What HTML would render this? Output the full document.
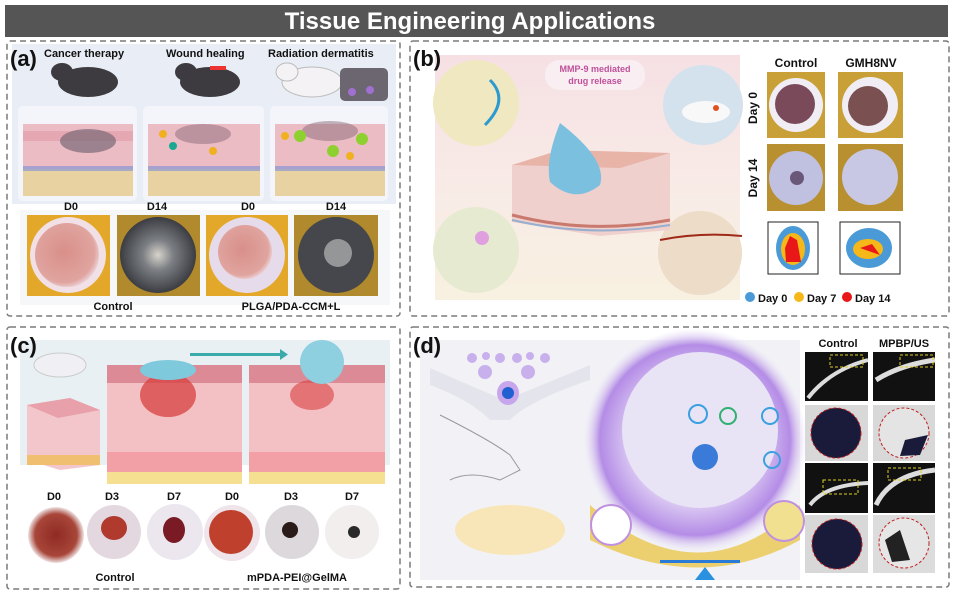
<!DOCTYPE html>
<html><head><meta charset="utf-8"><style>
html,body{margin:0;padding:0;background:#fff;width:955px;height:594px;overflow:hidden}
text{font-family:"Liberation Sans",sans-serif;font-weight:bold}
</style></head><body>
<svg width="955" height="594" viewBox="0 0 955 594" xmlns="http://www.w3.org/2000/svg">
<defs>
<radialGradient id="pg" cx="0.5" cy="0.5" r="0.5"><stop offset="0.6" stop-color="#d9c6f2"/><stop offset="0.85" stop-color="#b48ce6"/><stop offset="1" stop-color="#e8e0f5" stop-opacity="0"/></radialGradient>
<radialGradient id="wd0" cx="0.45" cy="0.45" r="0.6"><stop offset="0" stop-color="#d98f8a"/><stop offset="0.8" stop-color="#e0a49f"/><stop offset="1" stop-color="#f0e0e8"/></radialGradient>
<radialGradient id="wd14" cx="0.5" cy="0.5" r="0.5"><stop offset="0" stop-color="#d8d4cc"/><stop offset="0.4" stop-color="#7c7f84"/><stop offset="1" stop-color="#3b3d42"/></radialGradient>
<radialGradient id="cw" cx="0.5" cy="0.5" r="0.5"><stop offset="0" stop-color="#8e2a22"/><stop offset="0.75" stop-color="#a8463a"/><stop offset="1" stop-color="#efe4e4"/></radialGradient>
<linearGradient id="bb" x1="0" y1="0" x2="0" y2="1"><stop offset="0" stop-color="#f6e0e4"/><stop offset="0.6" stop-color="#f8ece6"/><stop offset="1" stop-color="#f8f0e0"/></linearGradient>
</defs>
<rect x="5" y="5" width="943" height="32" fill="#555555"/>
<text x="470" y="29" font-size="24" fill="#fff" text-anchor="middle">Tissue Engineering Applications</text>

<g fill="none" stroke="#7a7a7a" stroke-width="1.5" stroke-dasharray="6,4">
<rect x="7" y="41" width="393" height="275" rx="3"/>
<rect x="410" y="41" width="539" height="275" rx="3"/>
<rect x="7" y="327" width="393" height="262" rx="3"/>
<rect x="410" y="327" width="539" height="260" rx="3"/>
</g>

<!-- ===== panel a ===== -->
<rect x="12" y="44" width="384" height="160" fill="#e9eef6"/>
<rect x="20" y="210" width="370" height="95" fill="#f6f7f9"/>
<text x="10" y="66" font-size="22" fill="#111">(a)</text>
<text x="44" y="57" font-size="11" fill="#111">Cancer therapy</text>
<text x="166" y="57" font-size="11" fill="#111">Wound healing</text>
<text x="268" y="57" font-size="11" fill="#111">Radiation dermatitis</text>
<g>
<ellipse cx="88" cy="82" rx="30" ry="15" fill="#3d3b3f"/><ellipse cx="62" cy="72" rx="11" ry="9" fill="#3d3b3f"/>
<ellipse cx="210" cy="82" rx="30" ry="15" fill="#3d3b3f"/><ellipse cx="186" cy="72" rx="11" ry="9" fill="#3d3b3f"/><rect x="210" y="66" width="16" height="4" fill="#e33"/>
<ellipse cx="312" cy="82" rx="30" ry="15" fill="#f4f2f4" stroke="#bbb"/><ellipse cx="287" cy="72" rx="11" ry="9" fill="#f4f2f4" stroke="#bbb"/>
<rect x="340" y="68" width="48" height="33" rx="5" fill="#6b6670"/>
<circle cx="352" cy="92" r="4" fill="#a070d0"/><circle cx="370" cy="90" r="4" fill="#a070d0"/>
</g>
<g>
<g transform="translate(18,106)"><rect width="119" height="95" rx="5" fill="#f3f5fa"/><rect x="5" y="18" width="110" height="45" fill="#ecbcc4"/><rect x="5" y="25" width="110" height="10" fill="#e5a8b2"/><rect x="5" y="63" width="110" height="27" fill="#e9d2a2"/><rect x="5" y="60" width="110" height="5" fill="#7c8fd8" opacity=".6"/><ellipse cx="70" cy="35" rx="28" ry="12" fill="#7a6a78" opacity=".7"/></g>
<g transform="translate(143,106)"><rect width="121" height="95" rx="5" fill="#f3f5fa"/><rect x="5" y="18" width="112" height="45" fill="#ecbcc4"/><rect x="5" y="63" width="112" height="27" fill="#e9d2a2"/><rect x="5" y="60" width="112" height="5" fill="#7c8fd8" opacity=".6"/><ellipse cx="60" cy="28" rx="28" ry="10" fill="#8a6a78" opacity=".5"/><circle cx="20" cy="28" r="4" fill="#f0b020"/><circle cx="30" cy="40" r="4" fill="#1aa890"/><circle cx="70" cy="45" r="4" fill="#f0b020"/></g>
<g transform="translate(270,106)"><rect width="118" height="95" rx="5" fill="#f3f5fa"/><rect x="5" y="18" width="110" height="45" fill="#ecbcc4"/><rect x="5" y="63" width="110" height="27" fill="#e9d2a2"/><rect x="5" y="60" width="110" height="5" fill="#7c8fd8" opacity=".6"/><ellipse cx="60" cy="25" rx="28" ry="10" fill="#8a6a78" opacity=".5"/><circle cx="30" cy="30" r="6" fill="#8ed030"/><circle cx="92" cy="33" r="6" fill="#8ed030"/><circle cx="63" cy="45" r="6" fill="#8ed030"/><circle cx="15" cy="30" r="4" fill="#f0b020"/><circle cx="80" cy="50" r="4" fill="#f0b020"/></g>
</g>
<text x="71" y="210" font-size="11" fill="#111" text-anchor="middle">D0</text>
<text x="157" y="210" font-size="11" fill="#111" text-anchor="middle">D14</text>
<text x="248" y="210" font-size="11" fill="#111" text-anchor="middle">D0</text>
<text x="336" y="210" font-size="11" fill="#111" text-anchor="middle">D14</text>
<g>
<rect x="27" y="215" width="83" height="81" fill="#e3a82a"/><circle cx="68" cy="255" r="38" fill="#f1e0e6"/><circle cx="67" cy="255" r="32" fill="url(#wd0)"/>
<rect x="117" y="215" width="83" height="81" fill="#b08a2c"/><circle cx="158" cy="255" r="38" fill="url(#wd14)"/>
<rect x="206" y="215" width="82" height="81" fill="#e3a82a"/><circle cx="247" cy="255" r="38" fill="#e6dbea"/><circle cx="245" cy="252" r="27" fill="url(#wd0)"/>
<rect x="294" y="215" width="84" height="81" fill="#b08a2c"/><circle cx="336" cy="255" r="38" fill="#45474c"/><circle cx="338" cy="253" r="14" fill="#b8b8b8" opacity=".7"/>
</g>
<text x="113" y="310" font-size="11" fill="#111" text-anchor="middle">Control</text>
<text x="291" y="310" font-size="11" fill="#111" text-anchor="middle">PLGA/PDA-CCM+L</text>

<!-- ===== panel b ===== -->
<rect x="435" y="55" width="305" height="245" fill="url(#bb)"/>
<text x="413" y="66" font-size="22" fill="#111">(b)</text>
<rect x="545" y="60" width="100" height="30" rx="14" fill="#f9eef2"/>
<text x="595" y="72" font-size="9" fill="#c0509a" text-anchor="middle">MMP-9 mediated</text>
<text x="595" y="84" font-size="9" fill="#c0509a" text-anchor="middle">drug release</text>
<circle cx="476" cy="103" r="43" fill="#f0e8c0"/>
<path d="M490,80 Q510,100 485,125" stroke="#2a9ad0" stroke-width="3" fill="none"/>
<circle cx="703" cy="105" r="40" fill="#d4e2ee"/><ellipse cx="706" cy="112" rx="24" ry="11" fill="#f8f8f8"/><circle cx="716" cy="108" r="3" fill="#e05020"/>
<circle cx="476" cy="250" r="43" fill="#e6ead0"/><circle cx="482" cy="238" r="7" fill="#e0a0e0"/>
<circle cx="700" cy="253" r="42" fill="#ecdcc8"/><path d="M660,240 Q700,232 742,236" stroke="#a02a1a" stroke-width="2" fill="none"/>
<polygon points="512,165 560,150 670,153 670,230 600,236 512,222" fill="#f0d0cc"/>
<polygon points="512,165 560,150 670,153 620,168" fill="#e8b4a8"/>
<path d="M512,215 Q590,235 670,220" stroke="#b04030" stroke-width="3" fill="none" opacity=".6"/>
<path d="M512,220 Q590,238 670,225" stroke="#70a0d0" stroke-width="2" fill="none" opacity=".7"/>
<path d="M560,123 Q545,160 550,182 Q575,205 600,185 Q608,160 560,123Z" fill="#7cc0e0"/>
<text x="796" y="67" font-size="12" fill="#111" text-anchor="middle">Control</text>
<text x="871" y="67" font-size="12" fill="#111" text-anchor="middle">GMH8NV</text>
<text transform="translate(757,108) rotate(-90)" font-size="12" fill="#111" text-anchor="middle">Day 0</text>
<text transform="translate(757,178) rotate(-90)" font-size="12" fill="#111" text-anchor="middle">Day 14</text>
<rect x="767" y="72" width="58" height="66" fill="#c9a038"/><circle cx="796" cy="105" r="27" fill="#f0eef4"/><circle cx="795" cy="104" r="20" fill="#7a4a5a"/>
<rect x="838" y="72" width="65" height="66" fill="#c9a038"/><circle cx="870" cy="105" r="28" fill="#f0eef4"/><circle cx="868" cy="106" r="20" fill="#7a5050"/>
<rect x="767" y="144" width="58" height="67" fill="#b89030"/><circle cx="796" cy="178" r="27" fill="#c0c0e0"/><circle cx="797" cy="178" r="7" fill="#6a5878"/>
<rect x="838" y="144" width="65" height="67" fill="#b89030"/><circle cx="870" cy="177" r="28" fill="#c8c8e4"/>
<g>
<rect x="768" y="222" width="50" height="52" fill="none" stroke="#222" stroke-width="1"/>
<ellipse cx="793" cy="248" rx="17" ry="22" fill="#4a9ad8"/><ellipse cx="793" cy="249" rx="12" ry="16" fill="#f6b818"/><polygon points="790,236 797,240 801,262 786,262 785,248" fill="#e81818"/>
<rect x="840" y="222" width="60" height="52" fill="none" stroke="#222" stroke-width="1"/>
<ellipse cx="869" cy="248" rx="23" ry="20" fill="#4a9ad8"/><ellipse cx="868" cy="249" rx="15" ry="10" fill="#f6b818"/><polygon points="860,248 872,244 880,255" fill="#e81818"/>
</g>
<circle cx="750" cy="297" r="5" fill="#4a9ad8"/><text x="758" y="302" font-size="11" fill="#111">Day 0</text>
<circle cx="799" cy="297" r="5" fill="#f6b818"/><text x="807" y="302" font-size="11" fill="#111">Day 7</text>
<circle cx="847" cy="297" r="5" fill="#e81818"/><text x="855" y="302" font-size="11" fill="#111">Day 14</text>

<!-- ===== panel c ===== -->
<rect x="20" y="340" width="370" height="125" fill="#e8f0f4"/>
<text x="10" y="353" font-size="22" fill="#111">(c)</text>
<ellipse cx="60" cy="365" rx="26" ry="12" fill="#f0f0f4" stroke="#ccc"/>
<polygon points="27,405 70,398 100,410 100,465 60,470 27,460" fill="#f3c6cc"/>
<polygon points="27,405 70,398 100,410 58,418" fill="#e8a0aa"/>
<rect x="27" y="455" width="73" height="10" fill="#f0c070"/>
<rect x="107" y="365" width="135" height="118" fill="#f3c0c4"/>
<rect x="107" y="365" width="135" height="18" fill="#dc8a96"/>
<ellipse cx="168" cy="395" rx="28" ry="22" fill="#d84040" opacity=".75"/>
<ellipse cx="168" cy="370" rx="28" ry="10" fill="#7ecadc"/>
<rect x="107" y="452" width="135" height="20" fill="#f2a0a6"/>
<rect x="107" y="472" width="135" height="12" fill="#f4e090"/>
<rect x="249" y="365" width="136" height="118" fill="#f3c0c4"/>
<rect x="249" y="365" width="136" height="18" fill="#dc8a96"/>
<ellipse cx="312" cy="395" rx="22" ry="15" fill="#d84040" opacity=".6"/>
<circle cx="322" cy="362" r="22" fill="#8ecfe0"/>
<rect x="249" y="452" width="136" height="20" fill="#f2a0a6"/>
<rect x="249" y="472" width="136" height="12" fill="#f4e090"/>
<rect x="190" y="353" width="90" height="3" fill="#3aaaaa"/>
<polygon points="280,349 288,354.5 280,360" fill="#3aaaaa"/>
<text x="54" y="500" font-size="11" fill="#111" text-anchor="middle">D0</text>
<text x="112" y="500" font-size="11" fill="#111" text-anchor="middle">D3</text>
<text x="174" y="500" font-size="11" fill="#111" text-anchor="middle">D7</text>
<text x="232" y="500" font-size="11" fill="#111" text-anchor="middle">D0</text>
<text x="291" y="500" font-size="11" fill="#111" text-anchor="middle">D3</text>
<text x="352" y="500" font-size="11" fill="#111" text-anchor="middle">D7</text>
<circle cx="56" cy="535" r="28" fill="url(#cw)"/>
<circle cx="114" cy="532" r="27" fill="#e4d8e0"/><ellipse cx="114" cy="528" rx="13" ry="12" fill="#b03a2e"/>
<circle cx="175" cy="532" r="28" fill="#ece6ee"/><ellipse cx="174" cy="530" rx="11" ry="13" fill="#7a1a24"/>
<circle cx="232" cy="533" r="28" fill="#eee4ea"/><circle cx="231" cy="532" r="22" fill="#c0402e"/>
<circle cx="292" cy="532" r="27" fill="#dcd8dc"/><circle cx="290" cy="530" r="8" fill="#2a1a18"/>
<circle cx="352" cy="532" r="27" fill="#f2eeee"/><circle cx="354" cy="532" r="6" fill="#2a2a2a"/>
<text x="115" y="581" font-size="11" fill="#111" text-anchor="middle">Control</text>
<text x="297" y="581" font-size="11" fill="#111" text-anchor="middle">mPDA-PEI@GelMA</text>

<!-- ===== panel d ===== -->
<rect x="420" y="340" width="380" height="240" fill="#f2f2f6"/>
<text x="413" y="353" font-size="22" fill="#111">(d)</text>
<path d="M430,368 Q480,390 505,400 Q530,390 590,365 L590,380 Q530,400 510,420 L490,420 Q470,400 430,385Z" fill="#e4e4ec"/>
<ellipse cx="508" cy="393" rx="11" ry="12" fill="#c8a6ec"/><circle cx="508" cy="393" r="6" fill="#2060d0"/>
<g fill="#c8b0ec"><circle cx="472" cy="358" r="5"/><circle cx="486" cy="356" r="4"/><circle cx="500" cy="358" r="5"/><circle cx="517" cy="358" r="5"/><circle cx="530" cy="356" r="4"/><circle cx="545" cy="358" r="5"/><circle cx="485" cy="372" r="7"/><circle cx="528" cy="372" r="7"/></g>
<path d="M440,415 Q490,440 510,455 L520,470 L500,480 Q470,470 450,480" fill="none" stroke="#999" stroke-width="1"/>
<ellipse cx="510" cy="530" rx="55" ry="25" fill="#f8e6b8"/>
<circle cx="695" cy="440" r="112" fill="url(#pg)"/>
<circle cx="700" cy="430" r="78" fill="#e8e4f6"/>
<path d="M590,505 Q700,600 800,505 L800,540 Q700,595 590,540Z" fill="#ecd070"/>
<circle cx="611" cy="525" r="20" fill="#fff" stroke="#c090e0" stroke-width="2"/>
<circle cx="784" cy="521" r="20" fill="#f0e090" stroke="#c090e0" stroke-width="2"/>
<circle cx="705" cy="457" r="13" fill="#3a7ad8"/>
<g fill="none" stroke-width="2"><circle cx="698" cy="414" r="9" stroke="#3aa0e0"/><circle cx="728" cy="416" r="8" stroke="#30b070"/><circle cx="770" cy="416" r="8" stroke="#3aa0e0"/><circle cx="772" cy="460" r="8" stroke="#3aa0e0"/></g>
<path d="M705,567 L695,580 L715,580Z" fill="#2a90e0"/>
<rect x="660" y="560" width="80" height="3" fill="#2a7ad8"/>
<text x="838" y="347" font-size="11" fill="#111" text-anchor="middle">Control</text>
<text x="904" y="347" font-size="11" fill="#111" text-anchor="middle">MPBP/US</text>
<rect x="805" y="352" width="63" height="49" fill="#111"/><path d="M808,398 Q830,370 868,360" stroke="#ddd" stroke-width="4" fill="none"/><rect x="830" y="355" width="33" height="12" fill="none" stroke="#e0d020" stroke-dasharray="3,2"/>
<rect x="873" y="352" width="62" height="49" fill="#111"/><path d="M876,380 Q900,365 935,360" stroke="#ddd" stroke-width="5" fill="none"/><rect x="900" y="355" width="33" height="12" fill="none" stroke="#e0d020" stroke-dasharray="3,2"/>
<rect x="805" y="405" width="63" height="56" fill="#d8d8d8"/><circle cx="836" cy="433" r="25" fill="#1a1a3a" stroke="#c02020" stroke-dasharray="3,2"/>
<rect x="873" y="405" width="62" height="56" fill="#d8d8d8"/><circle cx="904" cy="433" r="25" fill="#e4e4e4" stroke="#c02020" stroke-dasharray="3,2"/><path d="M905,440 L928,435 L920,455 L900,456Z" fill="#1a1a3a"/>
<rect x="805" y="463" width="63" height="50" fill="#111"/><path d="M810,505 Q825,485 868,483" stroke="#ddd" stroke-width="4" fill="none"/><rect x="823" y="480" width="35" height="14" fill="none" stroke="#e0d020" stroke-dasharray="3,2"/>
<rect x="873" y="463" width="62" height="50" fill="#111"/><path d="M876,505 Q890,475 935,470" stroke="#ddd" stroke-width="5" fill="none"/><rect x="888" y="468" width="33" height="12" fill="none" stroke="#e0d020" stroke-dasharray="3,2"/>
<rect x="805" y="515" width="63" height="58" fill="#d8d8d8"/><circle cx="837" cy="544" r="25" fill="#1a1a3a" stroke="#c02020" stroke-dasharray="3,2"/>
<rect x="873" y="515" width="62" height="58" fill="#dcdcdc"/><circle cx="904" cy="543" r="25" fill="#e6e6e6" stroke="#c02020" stroke-dasharray="3,2"/><path d="M885,540 L900,530 L910,560 L892,562Z" fill="#222"/>
</svg>
</body></html>
